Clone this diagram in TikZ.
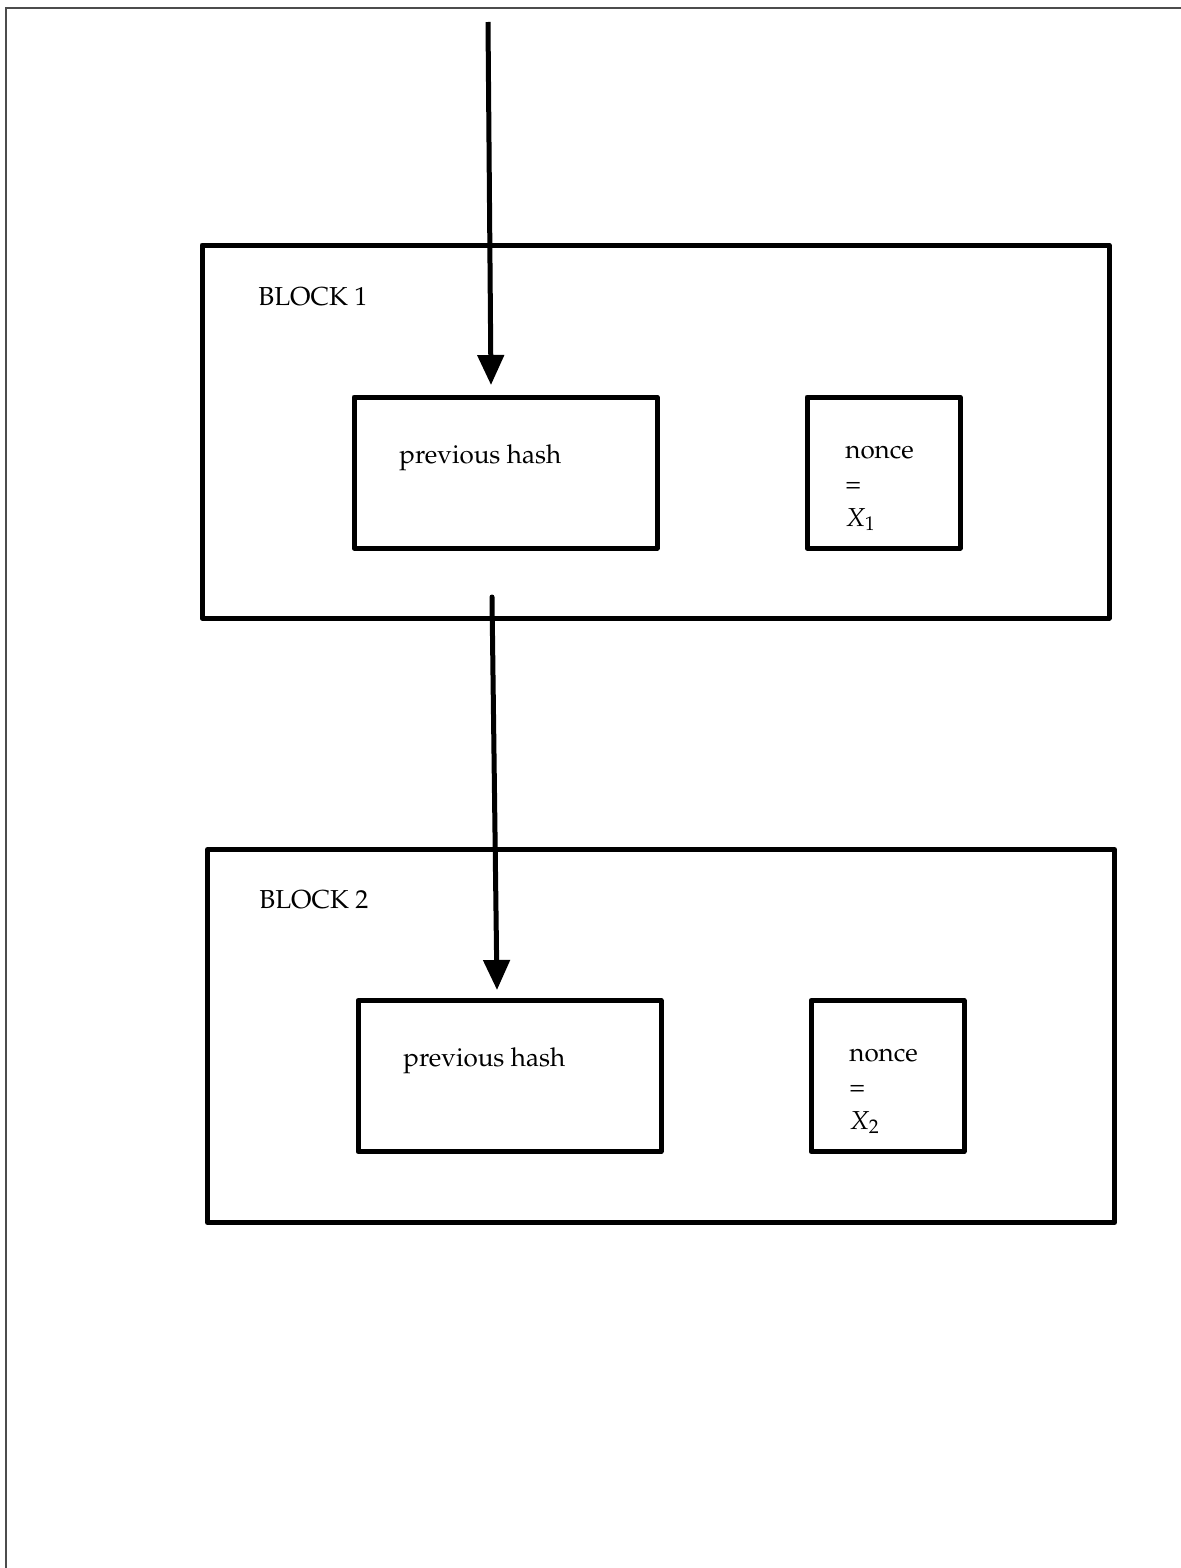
\documentclass[tikz,border=0pt]{standalone}
\usepackage[T1]{fontenc}
\usepackage{mathpazo}
\usetikzlibrary{arrows.meta}

\begin{document}
\begin{tikzpicture}[
    x=0.5pt, y=-0.5pt,
    >={Triangle[width=13pt,length=15pt]},
    font=\fontsize{13}{17}\selectfont,
    bloc/.style={draw, line width=2.5pt, line join=round, minimum width=453.5pt, minimum height=186.5pt, inner sep=0pt},
    hashbox/.style={draw, line width=2.5pt, line join=round, minimum width=151.5pt, minimum height=75.5pt, inner sep=0pt},
    noncebox/.style={draw, line width=2.5pt, line join=round, minimum width=76.5pt, minimum height=75.5pt, inner sep=0pt},
    txt/.style={anchor=base west, inner sep=0pt},
    ntxt/.style={anchor=base west, inner sep=0pt, text width=3cm, align=left},
    lien/.style={->, line width=2.5pt},
  ]
  \useasboundingbox (0,0) rectangle (1181,1568);
  % page frame
  \draw[gray!60!black, line width=0.75pt] (6,1568) -- (6,8) -- (1181,8);

  % block 1
  \node[bloc] (b1) at (655.5,431.5) {};
  \node[txt] (b1txt) at (258,305) {BLOCK 1};
  \node[hashbox] (h1) at (505.5,472.5) {};
  \node[txt] (h1txt) at (399,463) {previous hash};
  \node[noncebox] (n1) at (883.5,472.5) {};
  \node[ntxt] (n1txt) at (845,458) {nonce\\=\\$X_1$};

  % block 2
  \node[bloc] (b2) at (661,1036) {};
  \node[txt] (b2txt) at (259,908) {BLOCK 2};
  \node[hashbox] (h2) at (509.5,1076) {};
  \node[txt] (h2txt) at (403,1066) {previous hash};
  \node[noncebox] (n2) at (887.5,1076) {};
  \node[ntxt] (n2txt) at (849,1061) {nonce\\=\\$X_2$};

  % links
  \coordinate (in1) at (488,22);
  \coordinate (tip1) at (491,385);
  \coordinate (out1) at (492,597);
  \coordinate (tip2) at (497,990);
  \draw[lien] (in1) -- (tip1);
  \draw[lien, line cap=round] (out1) -- (tip2);
\end{tikzpicture}
\end{document}
